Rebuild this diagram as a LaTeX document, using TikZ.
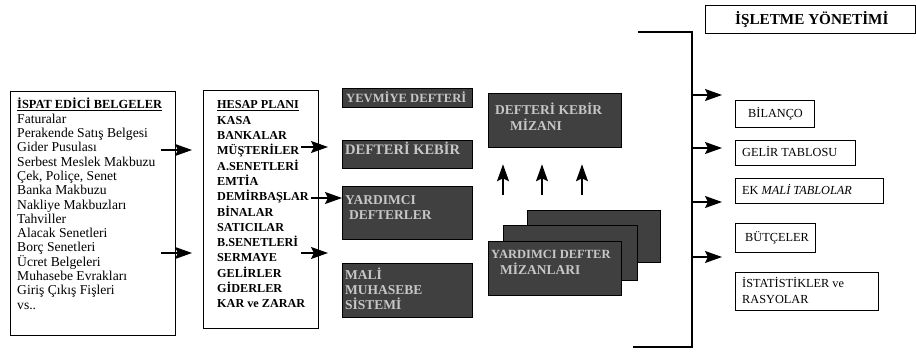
\documentclass[tikz,border=0pt]{standalone}
\usepackage{fontspec}
\setmainfont{Liberation Serif}
\usetikzlibrary{arrows.meta}
\begin{document}
\begin{tikzpicture}[x=1pt,y=-1pt]
\useasboundingbox[fill=white] (0,0) rectangle (916,352);
\tikzset{
  arr/.style={-{Stealth[length=17pt,width=12pt,inset=3pt]}, line width=1.4pt},
  wbox/.style={draw, line width=1.3pt, inner sep=0pt, anchor=north west},
  dbox/.style={draw=black, fill=black!75, line width=1.3pt, inner sep=0pt, anchor=north west},
  lt/.style={anchor=base west, inner sep=0pt, font=\fontsize{13.6}{14}\selectfont},
  ht/.style={anchor=base west, inner sep=0pt, font=\fontsize{12.2}{14}\selectfont\bfseries},
  dt/.style={anchor=base west, inner sep=0pt, text=black!22, font=\fontsize{13.5}{14}\selectfont\bfseries},
  rt/.style={anchor=base west, inner sep=0pt, font=\fontsize{12.3}{14}\selectfont},
}
% ---- left box: documents
\node[wbox, minimum width=165pt, minimum height=244pt] (ispat) at (10,91) {};
\node[lt, font=\fontsize{12.4}{14}\selectfont\bfseries] (isph) at (17,109) {\underline{İSPAT EDİCİ BELGELER}};
\foreach \t [count=\i] in {Faturalar, Perakende Satış Belgesi, Gider Pusulası, Serbest Meslek Makbuzu,
  {Çek, Poliçe, Senet}, Banka Makbuzu, Nakliye Makbuzları, Tahviller, Alacak Senetleri,
  Borç Senetleri, Ücret Belgeleri, Muhasebe Evrakları, Giriş Çıkış Fişleri, vs..}
  \node[lt] (isp\i) at (17,109+14.3*\i) {\t};
% ---- account plan
\node[wbox, minimum width=115pt, minimum height=238pt] (hesap) at (203,90) {};
\node[ht] (hesh) at (217,109) {\underline{HESAP PLANI}};
\foreach \t [count=\i] in {KASA, BANKALAR, MÜŞTERİLER, A.SENETLERİ, EMTİA, DEMİRBAŞLAR, BİNALAR,
  SATICILAR, B.SENETLERİ, SERMAYE, GELİRLER, GİDERLER, KAR ve ZARAR}
  \node[ht] (hes\i) at (217,109+15.3*\i) {\t};
% arrows documents -> plan
\coordinate (ya) at (0,150);
\coordinate (yb) at (0,253);
\draw[arr] ([xshift=-15pt]ispat.east |- ya) -- ([xshift=-11pt]hesap.west |- ya);
\draw[arr] ([xshift=-15pt]ispat.east |- yb) -- ([xshift=-11pt]hesap.west |- yb);
% ---- dark boxes column
\node[dbox, minimum width=130pt, minimum height=19pt] (yev) at (342,88) {};
\node[dt, font=\fontsize{12.6}{14}\selectfont\bfseries] (yevt) at (346,103) {YEVMİYE DEFTERİ};
\node[dbox, minimum width=130pt, minimum height=28pt] (kebir) at (342,140) {};
\node[dt, font=\fontsize{14.5}{15}\selectfont\bfseries] (kebt) at (345,155) {DEFTERİ KEBİR};
\node[dbox, minimum width=130pt, minimum height=53pt] (yard) at (342,186) {};
\node[dt] (yardt1) at (345,205) {YARDIMCI};
\node[dt] (yardt2) at (349,220) {DEFTERLER};
\node[dbox, minimum width=130pt, minimum height=54pt] (mali) at (342,263) {};
\node[dt] (malit1) at (345,280) {MALİ};
\node[dt] (malit2) at (345,295) {MUHASEBE};
\node[dt] (malit3) at (345,310) {SİSTEMİ};
% arrows plan -> dark boxes
\coordinate (yc) at (0,147);
\coordinate (yd) at (0,198);
\coordinate (ye) at (0,253);
\draw[arr] ([xshift=-18pt]hesap.east |- yc) -- ([xshift=-14pt]kebir.west |- yc);
\draw[arr] ([xshift=-8pt]hesap.east |- yd) -- (yard.west |- yd);
\draw[arr] ([xshift=-18pt]hesap.east |- ye) -- ([xshift=-14pt]mali.west |- ye);
% ---- trial balances
\node[dbox, minimum width=133pt, minimum height=54pt] (mizan) at (488,93) {};
\node[dt] (mizt1) at (495,115) {DEFTERİ KEBİR};
\node[dt] (mizt2) at (510,131) {MİZANI};
\node[dbox, minimum width=133pt, minimum height=52pt] (st3) at (527,210) {};
\node[dbox, minimum width=134pt, minimum height=55pt] (st2) at (503,225) {};
\node[dbox, minimum width=133pt, minimum height=54pt] (st1) at (488,241) {};
\node[dt, font=\fontsize{12.5}{14}\selectfont\bfseries] (st1t1) at (491,259) {YARDIMCI DEFTER};
\node[dt] (st1t2) at (500,275) {MİZANLARI};
% up arrows
\foreach \x [count=\i] in {503,542,582}{
  \coordinate (u\i) at (\x,195);
  \draw[arr, shorten >=16pt] (u\i) -- (u\i |- mizan.south);
}
% ---- bracket
\coordinate (bt) at (638,32);
\coordinate (bb) at (633,347);
\coordinate (bx) at (692,0);
\draw[line width=1.6pt] (bt) -- (bx |- bt) -- (bx |- bb) -- (bb);
% ---- management box
\node[wbox, minimum width=210pt, minimum height=28pt] (yon) at (705,5) {};
\node[rt, font=\fontsize{15.2}{16}\selectfont\bfseries] (yont) at (735,25) {İŞLETME YÖNETİMİ};
% ---- output boxes
\node[wbox, minimum width=79pt, minimum height=27pt] (bil) at (735,100) {};
\node[rt] (bilt) at (748,118) {BİLANÇO};
\node[wbox, minimum width=120pt, minimum height=25pt] (gel) at (735,140) {};
\node[rt] (gelt) at (742,157) {GELİR TABLOSU};
\node[wbox, minimum width=148pt, minimum height=25pt] (ek) at (735,178) {};
\node[rt] (ekt) at (742,195) {EK \textit{MALİ TABLOLAR}};
\node[wbox, minimum width=80pt, minimum height=29pt] (but) at (735,223) {};
\node[rt] (butt) at (745,242) {BÜTÇELER};
\node[wbox, minimum width=143pt, minimum height=38pt] (ist) at (735,272) {};
\node[rt] (istt1) at (742,288) {İSTATİSTİKLER ve};
\node[rt] (istt2) at (742,304) {RASYOLAR};
% arrows from bracket
\foreach \y [count=\i] in {95,148,202,257}{
  \coordinate (r\i) at (722,\y);
  \draw[arr] (bx |- r\i) -- (r\i);
}
\end{tikzpicture}
\end{document}
